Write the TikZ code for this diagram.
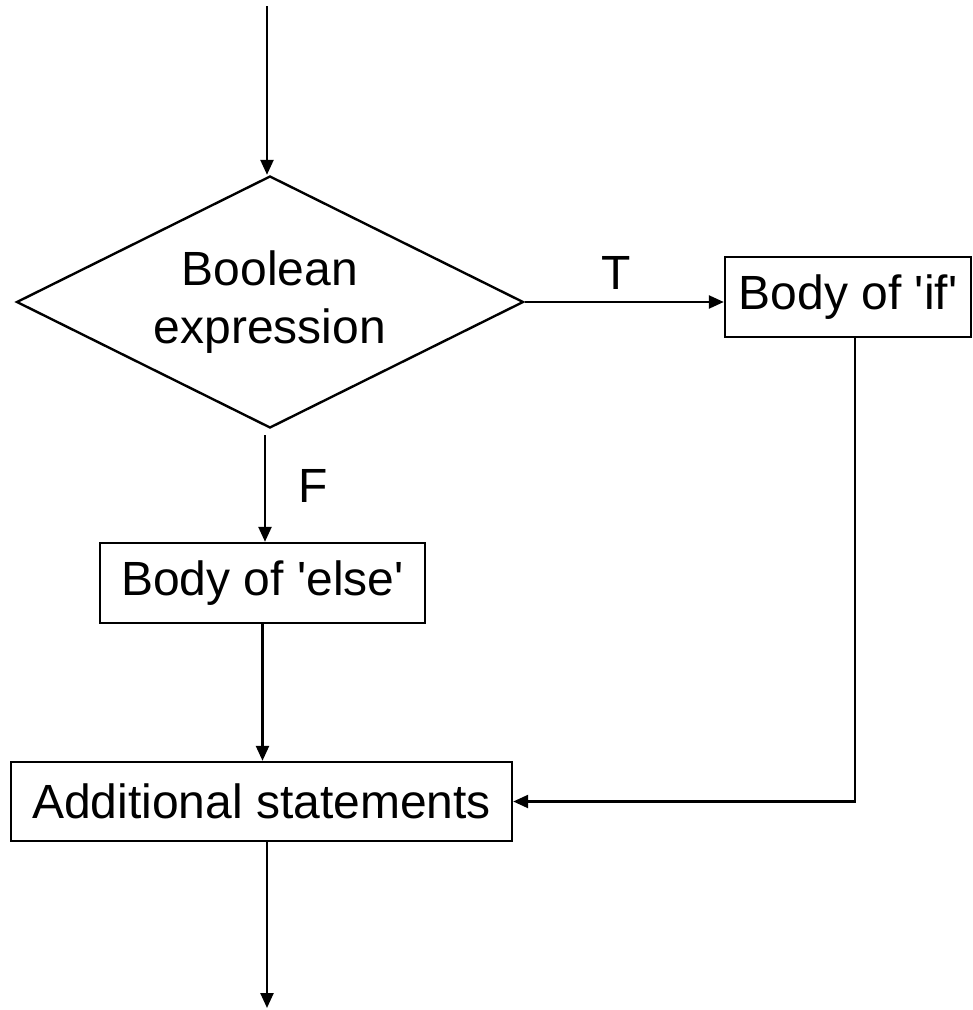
\documentclass[tikz,border=0pt]{standalone}
\usepackage{fontspec}
\setmainfont{Liberation Sans}
\usetikzlibrary{shapes.geometric,arrows.meta}
\begin{document}
\begin{tikzpicture}[x=1pt,y=-1pt,
  every node/.style={font=\fontsize{48}{58}\selectfont},
  stepbox/.style={draw,line width=2.4pt,rectangle,inner sep=0pt,minimum height=80pt},
  decision/.style={draw,line width=2.4pt,diamond,aspect=2.01,inner sep=0pt,
    minimum width=507pt,minimum height=252pt,align=center},
  arr/.style={line width=2.4pt,-{Triangle[length=15pt,width=13pt]}},
  lbl/.style={inner sep=0pt}]
\useasboundingbox (0,0) rectangle (973,1010);

% shapes
\node[decision] (dia) at (270,302) {Boolean\\expression};
\node[stepbox,minimum width=246pt] (ifbox) at (848,297) {Body of \textquotesingle if\textquotesingle};
\node[stepbox,minimum width=325pt] (elsebox) at (262.5,583) {Body of \textquotesingle else\textquotesingle};
\node[stepbox,minimum width=501pt,minimum height=79pt] (addbox) at (261.5,801.5) {Additional statements};

% free ends and offset starts
\coordinate (startpt) at (267,6);
\coordinate (endpt) at (267,1008);
\coordinate (fstart) at ([xshift=-5pt,yshift=-6pt]dia.south);
\coordinate (ifout) at ([xshift=7pt]ifbox.south);

% connectors
\draw[arr] (startpt) -- (startpt |- dia.north);
\draw[arr] (dia.east) -- (dia.east -| ifbox.west)
  node[lbl,pos=0.46,anchor=south,yshift=11pt] (tlabel) {T};
\draw[arr] (fstart) -- (fstart |- elsebox.north)
  node[lbl,pos=0.48,anchor=west,xshift=32pt] (flabel) {F};
\draw[arr] (elsebox.south) -- (elsebox.south |- addbox.north);
\draw[arr] (ifout) |- (addbox.east);
\draw[arr] (endpt |- addbox.south) -- (endpt);
\end{tikzpicture}
\end{document}
